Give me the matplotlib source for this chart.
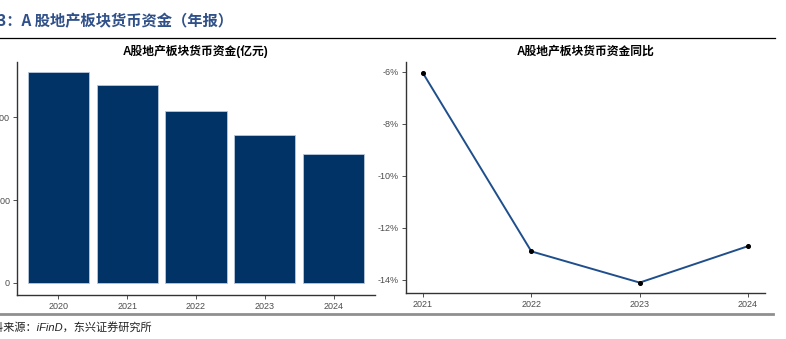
import matplotlib
matplotlib.use("Agg")
import matplotlib.pyplot as plt
from matplotlib.ticker import FuncFormatter

plt.rcParams['font.family'] = ['Liberation Sans', 'Noto Sans CJK SC', 'DejaVu Sans']

# 年报数据
years = ["2020", "2021", "2022", "2023", "2024"]
cash = [25400, 23850, 20780, 17850, 15580]          # 货币资金(亿元)
yoy_years = [2021, 2022, 2023, 2024]
yoy = [-6.05, -12.9, -14.1, -12.7]                    # 同比(%)

fig = plt.figure(figsize=(7.86, 3.39), dpi=100)
W, H = 786, 339

def box(x0, y0, x1, y1):
    return [x0 / W, 1 - y1 / H, (x1 - x0) / W, (y1 - y0) / H]

# 标题与分隔线
fig.text(-18 / W, 1 - 21 / H, "图3：A 股地产板块货币资金（年报）", fontsize=11, fontweight='bold',
         color='#2f5089', va='center', ha='left',
         family=['Noto Sans CJK SC', 'DejaVu Sans'])
fig.add_artist(plt.Line2D([0, 775 / W], [1 - 38 / H] * 2, color='black', lw=0.9))
fig.add_artist(plt.Line2D([0, 773 / W], [1 - 314 / H] * 2, color='#8f8f8f', lw=2))
fig.text(-19 / W, 1 - 327 / H, "资料来源：iFinD，东兴证券研究所", fontsize=8, style='italic',
         color='#222222', va='center', ha='left',
         family=['Liberation Sans', 'Noto Sans CJK SC', 'DejaVu Sans'])

tick_kw = dict(labelsize=6.5, labelcolor='#4d4d4d', length=3, width=0.6, color='#333333', pad=2)

# 左图：货币资金
ax1 = fig.add_axes(box(17, 62, 375, 295))
ax1.bar(range(len(years)), cash, width=0.89, color='#023366', edgecolor='#b9c8dd', linewidth=0.6)
ax1.set_xticks(range(len(years)))
ax1.set_xticklabels(years)
ax1.set_xlim(-0.6, 4.6)
ax1.set_ylim(-1450, 26650)
ax1.set_yticks([0, 10000, 20000])
ax1.set_title("A股地产板块货币资金(亿元)", fontsize=8.5, fontweight='bold', pad=5,
              family=['Liberation Sans', 'Noto Sans CJK SC'])

# 右图：同比
ax2 = fig.add_axes(box(406, 62, 765, 293))
ax2.plot(yoy_years, yoy, color='#1f4e8c', lw=1.4, zorder=2)
ax2.scatter(yoy_years, yoy, color='black', s=7, zorder=3)
ax2.set_xticks(yoy_years)
ax2.set_xlim(2020.843, 2024.157)
ax2.set_ylim(-14.5, -5.62)
ax2.set_yticks([-14, -12, -10, -8, -6])
ax2.yaxis.set_major_formatter(FuncFormatter(lambda v, p: f"{v:.0f}%"))
ax2.set_title("A股地产板块货币资金同比", fontsize=8.5, fontweight='bold', pad=5,
              family=['Liberation Sans', 'Noto Sans CJK SC'])

for ax in (ax1, ax2):
    for s in ('top', 'right'):
        ax.spines[s].set_visible(False)
    for s in ('left', 'bottom'):
        ax.spines[s].set_color('#333333')
        ax.spines[s].set_linewidth(1.0)
    ax.tick_params(**tick_kw)

fig.savefig("out.png", dpi=100)
